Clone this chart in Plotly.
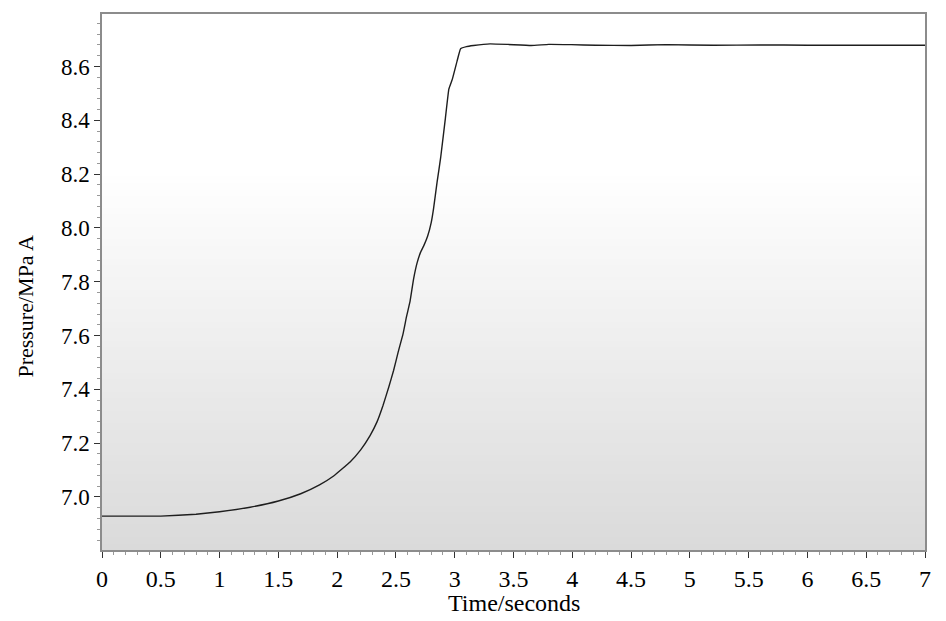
import plotly.graph_objects as go

# Data
time_s = [0.0, 0.5, 0.8, 1.0, 1.26, 1.5, 1.69, 1.85, 1.97, 2.11, 2.2, 2.28, 2.34, 2.39,
          2.44, 2.48, 2.52, 2.56, 2.59, 2.62, 2.65, 2.68, 2.71, 2.74, 2.77, 2.80, 2.82,
          2.85, 2.88, 2.92, 2.95, 2.98, 3.02, 3.05, 3.1, 3.16, 3.3, 3.45, 3.65, 3.8,
          3.99, 4.2, 4.5, 4.8, 5.2, 5.6, 6.0, 6.5, 7.0]
pressure = [6.929, 6.929, 6.936, 6.945, 6.962, 6.985, 7.012, 7.045, 7.078, 7.13, 7.175,
            7.228, 7.28, 7.34, 7.41, 7.47, 7.54, 7.605, 7.67, 7.727, 7.81, 7.87, 7.91,
            7.937, 7.97, 8.02, 8.072, 8.17, 8.26, 8.405, 8.516, 8.553, 8.62, 8.666,
            8.674, 8.678, 8.684, 8.682, 8.678, 8.682, 8.681, 8.679, 8.678, 8.681,
            8.679, 8.680, 8.679, 8.679, 8.679]

x_tick_vals = [0, 0.5, 1, 1.5, 2, 2.5, 3, 3.5, 4, 4.5, 5, 5.5, 6, 6.5, 7]
x_tick_text = ["0", "0.5", "1", "1.5", "2", "2.5", "3", "3.5", "4", "4.5", "5", "5.5", "6", "6.5", "7"]
y_tick_vals = [7.0, 7.2, 7.4, 7.6, 7.8, 8.0, 8.2, 8.4, 8.6]
y_tick_text = ["7.0", "7.2", "7.4", "7.6", "7.8", "8.0", "8.2", "8.4", "8.6"]

FONT = "Liberation Serif"

fig = go.Figure()
fig.add_trace(go.Scatter(x=time_s, y=pressure, mode="lines",
                         line=dict(color="#1e1e1e", width=1.4, shape="spline", smoothing=0.3),
                         hoverinfo="skip", showlegend=False))

# background gradient (white at top -> light grey at bottom)
shapes = []
n = 60
top_frac = 0.709
for i in range(n):
    y0 = top_frac * i / n
    y1 = top_frac * (i + 1) / n
    mid = (y0 + y1) / 2 / top_frac
    v = int(round(218 + (255 - 218) * mid))
    shapes.append(dict(type="rect", xref="x domain", yref="y domain", x0=0, x1=1,
                       y0=y0, y1=y1 + 0.002, line=dict(width=0),
                       fillcolor=f"rgb({v},{v},{v})", layer="below"))

fig.update_layout(
    width=946, height=621,
    margin=dict(l=102, r=21, t=14, b=71),
    paper_bgcolor="white", plot_bgcolor="white",
    shapes=shapes,
    font=dict(family=FONT, color="black"),
    annotations=[
        dict(text="Time/seconds", xref="paper", yref="paper", x=0.5, y=-0.099,
             xanchor="center", yanchor="middle", showarrow=False,
             font=dict(family=FONT, size=24, color="black")),
        dict(text="Pressure/MPa A", xref="paper", yref="paper", x=-0.093, y=0.455,
             xanchor="center", yanchor="middle", showarrow=False, textangle=-90,
             font=dict(family=FONT, size=22, color="black")),
    ],
)

fig.update_xaxes(range=[0, 7], tickmode="array", tickvals=x_tick_vals, ticktext=x_tick_text,
                 showgrid=False, zeroline=False, showline=True, mirror=True,
                 linecolor="#8c8c8c", linewidth=1.5,
                 ticks="outside", ticklen=6, tickwidth=1.2, tickcolor="#333333",
                 tickfont=dict(family=FONT, size=24, color="black"),
                 minor=dict(tickmode="linear", tick0=0, dtick=0.1, ticks="outside",
                            ticklen=3, tickwidth=1, tickcolor="#999999", showgrid=False))
fig.update_yaxes(range=[6.803, 8.795], tickmode="array", tickvals=y_tick_vals, ticktext=y_tick_text,
                 showgrid=False, zeroline=False, showline=True, mirror=True,
                 linecolor="#8c8c8c", linewidth=1.5,
                 ticks="outside", ticklen=6, tickwidth=1.2, tickcolor="#333333",
                 tickfont=dict(family=FONT, size=23, color="black"),
                 minor=dict(tickmode="linear", tick0=6.8, dtick=0.04, ticks="outside",
                            ticklen=3, tickwidth=1, tickcolor="#999999", showgrid=False))

fig.write_html("out.html", config={"displayModeBar": False},
               post_script="document.body.style.margin='0';document.body.style.padding='0';")
